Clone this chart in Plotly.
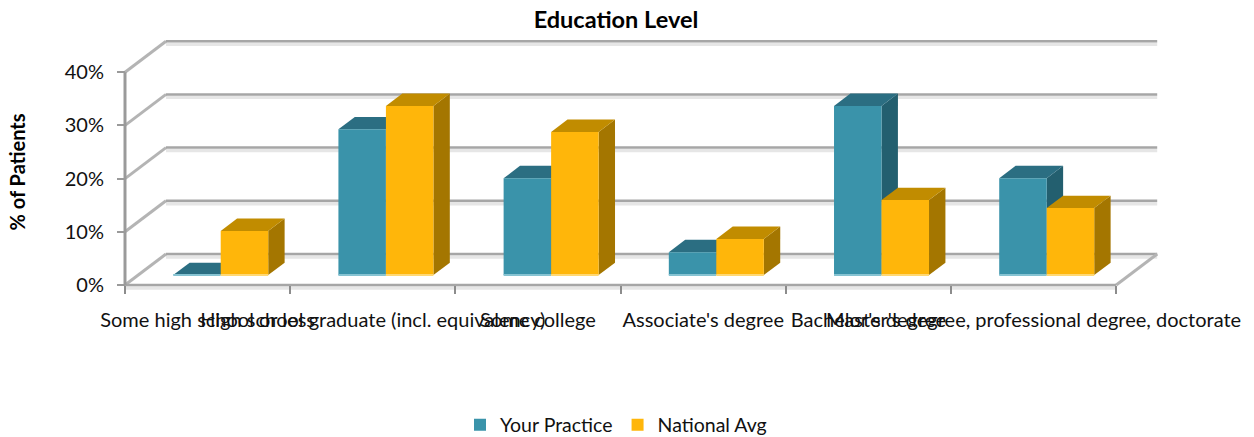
import plotly.graph_objects as go

categories = ["Some high school or less", "High school graduate (incl. equivalency)", "Some college",
              "Associate's degree", "Bachelor's degree", "Master's degree, professional degree, doctorate"]
your_practice = [0, 27.4, 18.2, 4.3, 31.8, 18.2]
national_avg = [8.3, 31.8, 26.9, 6.8, 14.1, 12.6]
y_ticks = [0, 10, 20, 30, 40]
y_labels = ["0%", "10%", "20%", "30%", "40%"]

W, H = 1254, 437
X0, Y0 = 125, 285           # pixel of the chart origin
PX_CAT, PX_PCT = 165.2, 5.32
WALL_DX = 41 / PX_CAT       # depth of the floor in data units
WALL_DY = 31 / PX_PCT
BAR_W = 47.5 / PX_CAT
D_FRONT, D_BACK = 0.32, 0.72
N = len(categories)

TEAL = ("#3a93aa", "#2b6e82", "#235f6f", "#86c3d2")
GOLD = ("#ffb60a", "#c18c00", "#a47600", "#ffd873")
GRID, SHADOW = "#a6a6a6", "#e6e6e6"


def line(x0, y0, x1, y1, color=GRID, width=2.5):
    return dict(type="line", xref="x", yref="y", x0=x0, y0=y0, x1=x1, y1=y1, layer="below",
                line=dict(color=color, width=width))


def poly(pts, color):
    path = "M" + " L".join(f"{a},{b}" for a, b in pts) + " Z"
    return dict(type="path", xref="x", yref="y", path=path, layer="below", fillcolor=color, line_width=0)


shapes = []
SH = 0.55
for t in y_ticks:
    shapes.append(line(WALL_DX, t + WALL_DY - SH, N + WALL_DX, t + WALL_DY - SH, SHADOW, 3.5))
shapes.append(line(0, -SH, N, -SH, SHADOW, 3.5))
for t in y_ticks:
    shapes.append(line(0, t, WALL_DX, t + WALL_DY, "#b4b4b4", 3))
    shapes.append(line(WALL_DX, t + WALL_DY, N + WALL_DX, t + WALL_DY))
shapes.append(line(N, 0, N + WALL_DX, WALL_DY, "#b4b4b4", 3))
shapes.append(line(0, 0, N, 0))
shapes.append(line(0, 0, 0, y_ticks[-1], "#9a9a9a", 3))

base = D_FRONT * WALL_DY
shift = D_FRONT * WALL_DX
dd_x = (D_BACK - D_FRONT) * WALL_DX
dd_y = (D_BACK - D_FRONT) * WALL_DY

traces = []
for j, (name, vals, col) in enumerate([("Your Practice", your_practice, TEAL), ("National Avg", national_avg, GOLD)]):
    xs = [i + 0.5 + shift + (j - 0.5) * BAR_W for i in range(N)]
    traces.append(go.Bar(name=name, x=xs, y=vals, base=[base] * N, width=[BAR_W] * N,
                         marker=dict(color=col[0], line_width=0)))
    for xc, v in zip(xs, vals):
        l, r, b, t = xc - BAR_W / 2, xc + BAR_W / 2, base, base + v
        shapes.append(poly([(r, b), (r + dd_x, b + dd_y), (r + dd_x, t + dd_y), (r, t)], col[2]))
        shapes.append(poly([(l, t), (r, t), (r + dd_x, t + dd_y), (l + dd_x, t + dd_y)], col[1]))
        rim = dict(line(l, b, r, b, col[3], 2))
        rim["layer"] = "above"
        shapes.append(rim)

fig = go.Figure(traces)
font = "Lato, 'Noto Sans', sans-serif"
left, right, bottom, top = 115, 1170, 309, 35
fig.update_layout(
    width=W, height=H, autosize=False, margin=dict(l=0, r=0, t=0, b=0, autoexpand=False),
    paper_bgcolor="white", plot_bgcolor="white", barmode="overlay", shapes=shapes,
    font=dict(family=font, size=20, color="#111111"),
    title=dict(text="<b>Education Level</b>", x=616 / W, xanchor="center", y=1 - 20 / H, yanchor="middle",
               font=dict(size=23.5, family=font, color="#000000")),
    legend=dict(orientation="h", x=(627 - 11) / W, xanchor="center", y=1 - 425 / H, yanchor="middle",
                font=dict(size=19.5), bgcolor="rgba(0,0,0,0)"),
    xaxis=dict(domain=[left / W, right / W], range=[(left - X0) / PX_CAT, (right - X0) / PX_CAT],
               automargin=False, anchor="free", position=(H - Y0) / H, showgrid=False, zeroline=False,
               tickmode="array", tickvals=[i + 0.5 for i in range(N)], ticktext=categories,
               tickangle=0, ticks="", ticklabelstandoff=21, ticklabeloverflow="allow",
               minor=dict(tickmode="array", tickvals=list(range(N + 1)), ticks="outside", ticklen=8,
                          tickwidth=1.5, tickcolor="#8c8c8c", showgrid=False)),
    yaxis=dict(domain=[(H - bottom) / H, (H - top) / H], range=[(Y0 - bottom) / PX_PCT, (Y0 - top) / PX_PCT],
               automargin=False, anchor="free", position=X0 / W, showgrid=False, zeroline=False,
               tickmode="array", tickvals=y_ticks, ticktext=y_labels, ticks="outside", ticklen=8,
               tickwidth=2, tickcolor="#9a9a9a", ticklabelstandoff=9,
               title=dict(text="<b>% of Patients</b>", font=dict(size=20, family=font, color="#000000"),
                          standoff=32)),
)
fig.write_html("out.html", post_script="document.body.style.margin='0';", config=dict(displayModeBar=False))
